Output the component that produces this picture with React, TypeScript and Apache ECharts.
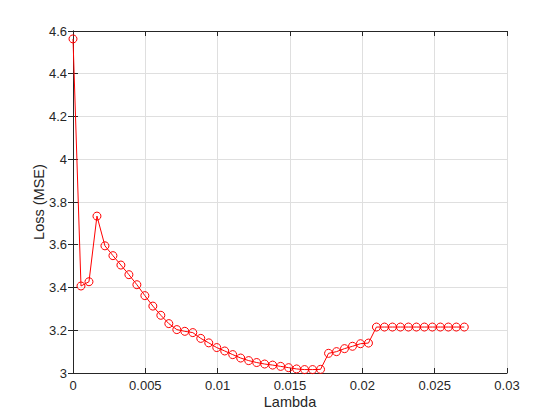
import React, { useEffect, useRef } from "react";
import * as echarts from "echarts";

const lambdas = [
  0, 0.000552, 0.001104, 0.001656, 0.002208, 0.00276, 0.003312, 0.003864, 0.004416, 0.004968,
  0.00552, 0.006072, 0.006624, 0.007176, 0.007728, 0.00828, 0.008832, 0.009384, 0.009936, 0.010488,
  0.01104, 0.011592, 0.012144, 0.012696, 0.013248, 0.0138, 0.014352, 0.014904, 0.015456, 0.016008,
  0.01656, 0.017112, 0.017664, 0.018216, 0.018768, 0.01932, 0.019872, 0.020424, 0.020976, 0.021528,
  0.02208, 0.022632, 0.023184, 0.023736, 0.024288, 0.02484, 0.025392, 0.025944, 0.026496, 0.027048,
];

const lossMSE = [
  4.563, 3.407, 3.427, 3.734, 3.595, 3.549, 3.505, 3.46, 3.413, 3.362,
  3.313, 3.27, 3.231, 3.203, 3.195, 3.189, 3.162, 3.141, 3.119, 3.103,
  3.086, 3.07, 3.058, 3.049, 3.042, 3.037, 3.031, 3.025, 3.019, 3.016,
  3.016, 3.017, 3.092, 3.1, 3.114, 3.125, 3.137, 3.14, 3.215, 3.215,
  3.215, 3.215, 3.215, 3.215, 3.215, 3.215, 3.215, 3.215, 3.215, 3.215,
];

const xLabel = "Lambda";
const yLabel = "Loss (MSE)";

const FONT = "'Liberation Sans', Arial, Helvetica, sans-serif";
const AXIS_COLOR = "#262626";
const GRID_COLOR = "#dfdfdf";

export default function App() {
  const ref = useRef<HTMLDivElement>(null);

  useEffect(() => {
    if (!ref.current) return;
    const chart = echarts.init(ref.current, undefined, { renderer: "svg" });
    const data = lambdas.map((x, i) => [x, lossMSE[i]]);

    const axisCommon = {
      axisLine: { show: true, lineStyle: { color: AXIS_COLOR, width: 1 } },
      axisTick: { show: true, inside: true, length: 5, lineStyle: { color: AXIS_COLOR } },
    };

    chart.setOption({
      animation: false,
      backgroundColor: "#ffffff",
      grid: { left: 73, right: 53, top: 31, bottom: 47 },
      xAxis: [
        {
          type: "value",
          min: 0,
          max: 0.03,
          interval: 0.005,
          ...axisCommon,
          axisLabel: {
            color: AXIS_COLOR,
            fontFamily: FONT,
            fontSize: 13,
            margin: 6,
            formatter: (v: number) => String(parseFloat(v.toFixed(3))),
          },
          splitLine: { show: true, lineStyle: { color: GRID_COLOR, width: 1 } },
          name: xLabel,
          nameLocation: "middle",
          nameGap: 21,
          nameMoveOverlap: false,
          nameTextStyle: { color: AXIS_COLOR, fontFamily: FONT, fontSize: 14.5 },
        },
        {
          type: "value",
          position: "top",
          min: 0,
          max: 0.03,
          interval: 0.005,
          ...axisCommon,
          axisLabel: { show: false },
          splitLine: { show: false },
        },
      ],
      yAxis: [
        {
          type: "value",
          min: 3,
          max: 4.6,
          interval: 0.2,
          ...axisCommon,
          axisLabel: {
            color: AXIS_COLOR,
            fontFamily: FONT,
            fontSize: 13,
            margin: 6,
            formatter: (v: number) => String(parseFloat(v.toFixed(1))),
          },
          splitLine: { show: true, lineStyle: { color: GRID_COLOR, width: 1 } },
          name: yLabel,
          nameLocation: "middle",
          nameGap: 27,
          nameMoveOverlap: false,
          nameTextStyle: { color: AXIS_COLOR, fontFamily: FONT, fontSize: 14.5 },
        },
        {
          type: "value",
          position: "right",
          min: 3,
          max: 4.6,
          interval: 0.2,
          ...axisCommon,
          axisLabel: { show: false },
          splitLine: { show: false },
        },
      ],
      series: [
        {
          type: "line",
          data,
          xAxisIndex: 0,
          yAxisIndex: 0,
          symbol: "circle",
          symbolSize: 8,
          showSymbol: true,
          showAllSymbol: true,
          clip: false,
          lineStyle: { color: "#ff0000", width: 1 },
          itemStyle: { color: "rgba(0,0,0,0)", borderColor: "#ff0000", borderWidth: 1 },
          emphasis: { disabled: true },
        },
      ],
    });

    return () => chart.dispose();
  }, []);

  return (
    <div
      ref={ref}
      style={{ position: "fixed", left: 0, top: 0, width: 560, height: 420, background: "#fff" }}
    />
  );
}
